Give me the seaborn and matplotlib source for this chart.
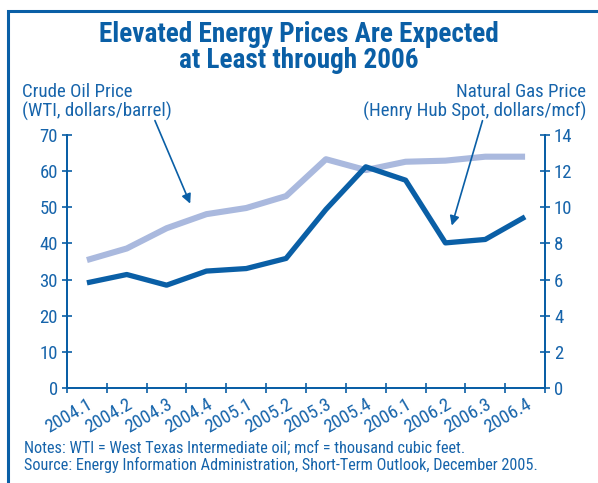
import matplotlib
matplotlib.use("Agg")
import matplotlib.pyplot as plt
from matplotlib.patches import Rectangle
import seaborn as sns
import pandas as pd

# --- data ---
quarters = ["2004.1", "2004.2", "2004.3", "2004.4", "2005.1", "2005.2",
            "2005.3", "2005.4", "2006.1", "2006.2", "2006.3", "2006.4"]
oil_price = [35.4, 38.6, 44.2, 48.1, 49.8, 53.1, 63.3, 60.3, 62.6, 62.9, 64.0, 64.0]
gas_price = [5.82, 6.28, 5.69, 6.47, 6.61, 7.17, 9.88, 12.24, 11.5, 8.03, 8.22, 9.47]
oil_ticks = [0, 10, 20, 30, 40, 50, 60, 70]
gas_ticks = [0, 2, 4, 6, 8, 10, 12, 14]

DARK = "#0a5fa6"
LIGHT = "#aab9de"
TEXT = "#1664ab"

sns.set_theme(style="white")
plt.rcParams["font.family"] = ["Roboto Condensed", "DejaVu Sans"]

df = pd.DataFrame({"quarter": quarters, "oil": oil_price, "gas": gas_price})

fig = plt.figure(figsize=(5.98, 4.83), dpi=100)
ax = fig.add_axes([67 / 598, 1 - 388 / 483, 478 / 598, 253 / 483])
ax2 = ax.twinx()

sns.lineplot(data=df, x="quarter", y="oil", ax=ax, color=LIGHT, lw=4.4,
             solid_capstyle="butt", sort=False)
sns.lineplot(data=df, x="quarter", y="gas", ax=ax2, color=DARK, lw=3.8,
             solid_capstyle="butt", sort=False)

ax.set_xlim(-0.5, len(quarters) - 0.5)
ax.set_ylim(0, 70)
ax2.set_ylim(0, 14)
ax.set_yticks(oil_ticks)
ax2.set_yticks(gas_ticks)
ax.set_xlabel("")
ax.set_ylabel("")
ax2.set_ylabel("")

# spines
for a in (ax, ax2):
    a.grid(False)
    a.set_facecolor("none")
    for side, sp in a.spines.items():
        sp.set_color(DARK)
        sp.set_linewidth(1.4)
    a.spines["top"].set_visible(False)

# x ticks: marks on the boundaries, labels at the centres
ax.set_xticks(range(len(quarters)))
ax.set_xticklabels(quarters, rotation=30, ha="right", va="top",
                   rotation_mode="anchor", fontsize=13.5, color=TEXT)
ax.set_xticks([i - 0.5 for i in range(len(quarters) + 1)], minor=True)
ax.tick_params(axis="x", which="major", length=0, pad=5)
ax.tick_params(axis="x", which="minor", direction="inout", length=7,
               width=1.2, color=DARK, bottom=True)

ax.tick_params(axis="y", direction="inout", length=7, width=1.2, color=DARK,
               labelcolor=TEXT, labelsize=13.5, pad=3, left=True)
ax2.tick_params(axis="y", direction="inout", length=7, width=1.2, color=DARK,
                labelcolor=TEXT, labelsize=13.5, pad=3, right=True)

# arrows from the axis titles to their lines
ax.annotate("", xy=(2.62, 50.3), xytext=(1.68, 74.7),
            arrowprops=dict(arrowstyle="-|>", color=DARK, lw=1.2,
                            mutation_scale=14), annotation_clip=False)
ax.annotate("", xy=(9.14, 44.2), xytext=(9.95, 74.7),
            arrowprops=dict(arrowstyle="-|>", color=DARK, lw=1.2,
                            mutation_scale=14), annotation_clip=False)

# texts
fig.text(0.5, 1 - 34 / 483, "Elevated Energy Prices Are Expected",
         ha="center", va="center", fontsize=19.6, fontweight="bold", color=DARK)
fig.text(0.5, 1 - 61 / 483, "at Least through 2006",
         ha="center", va="center", fontsize=19.6, fontweight="bold", color=DARK)
fig.text(22 / 598, 1 - 92 / 483, "Crude Oil Price",
         ha="left", va="center", fontsize=13.6, color=TEXT)
fig.text(22 / 598, 1 - 111 / 483, "(WTI, dollars/barrel)",
         ha="left", va="center", fontsize=13.6, color=TEXT)
fig.text(586 / 598, 1 - 92 / 483, "Natural Gas Price",
         ha="right", va="center", fontsize=13.6, color=TEXT)
fig.text(586 / 598, 1 - 111 / 483, "(Henry Hub Spot, dollars/mcf)",
         ha="right", va="center", fontsize=13.6, color=TEXT)
fig.text(24 / 598, 1 - 448 / 483,
         "Notes: WTI = West Texas Intermediate oil; mcf = thousand cubic feet.",
         ha="left", va="center", fontsize=11.7, color=TEXT)
fig.text(24 / 598, 1 - 465 / 483,
         "Source: Energy Information Administration, Short-Term Outlook, December 2005.",
         ha="left", va="center", fontsize=11.7, color=TEXT)

# frame round the panel
fig.patches.append(Rectangle((8 / 598, -0.1), 1.2, 1 - 11 / 483 + 0.1,
                             transform=fig.transFigure, fill=False,
                             edgecolor=DARK, lw=2.2, zorder=0))

fig.savefig("out.png", dpi=100)
